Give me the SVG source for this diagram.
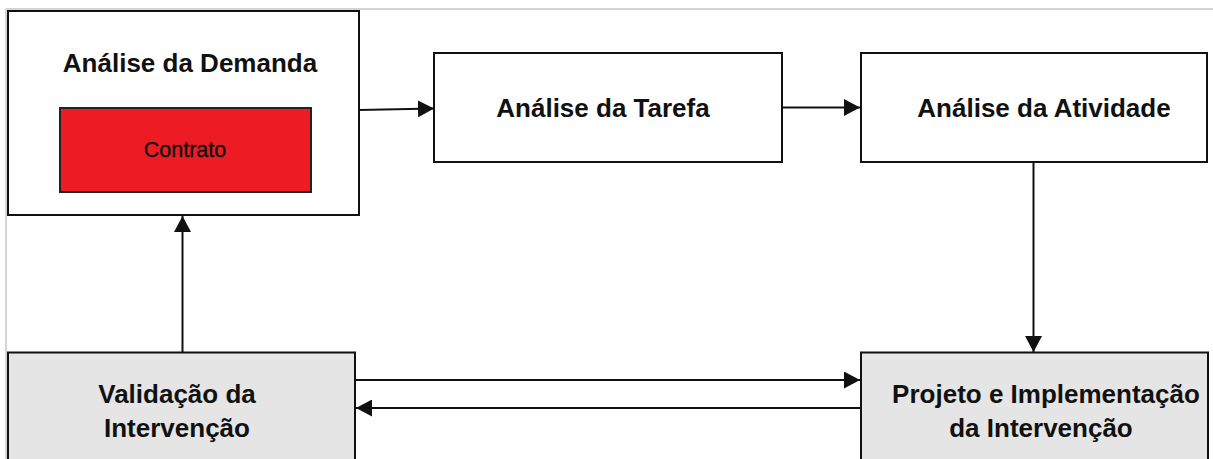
<svg xmlns="http://www.w3.org/2000/svg" width="1213" height="459" viewBox="0 0 1213 459">
  <style>
    .box { fill: #ffffff; stroke: #111111; stroke-width: 2; }
    .grey { fill: #e5e5e5; stroke: #111111; stroke-width: 2; }
    .title { font-family: "Liberation Sans", Arial, sans-serif; font-weight: bold; font-size: 26px; fill: #111111; text-anchor: middle; }
    .small { font-family: "Liberation Sans", Arial, sans-serif; font-size: 21.5px; fill: #111111; stroke: #111111; stroke-width: 0.4; text-anchor: middle; }
    .link { fill: none; stroke: #111111; stroke-width: 2; }
    .frame { fill: none; stroke: #c8c8c8; stroke-width: 1.5; }
  </style>
  <defs>
    <marker id="arrow" markerUnits="userSpaceOnUse" markerWidth="16" markerHeight="17" refX="16" refY="8.5" orient="auto">
      <path d="M0,0 L16,8.5 L0,17 z" fill="#111111"/>
    </marker>
  </defs>

  <rect width="1213" height="459" fill="#ffffff"/>
  <!-- light frame around the canvas -->
  <path class="frame" d="M6,459 V9 H1213"/>

  <g id="analise-demanda">
    <rect class="box" x="8" y="11" width="351" height="204"/>
    <text class="title" x="190" y="71.5">Análise da Demanda</text>
  </g>
  <g id="contrato">
    <rect x="60" y="108" width="251" height="84" fill="#ed1c24" stroke="#222222" stroke-width="2"/>
    <text class="small" x="185" y="156.5">Contrato</text>
  </g>
  <g id="analise-tarefa">
    <rect class="box" x="434" y="53" width="348" height="109"/>
    <text class="title" x="603" y="117">Análise da Tarefa</text>
  </g>
  <g id="analise-atividade">
    <rect class="box" x="861" y="53" width="346" height="109"/>
    <text class="title" x="1044" y="117">Análise da Atividade</text>
  </g>
  <g id="validacao">
    <rect class="grey" x="8" y="352.5" width="347" height="120"/>
    <text class="title" x="177" y="402.5">Validação da</text>
    <text class="title" x="177" y="436.5">Intervenção</text>
  </g>
  <g id="projeto">
    <rect class="grey" x="861" y="352.5" width="347" height="120"/>
    <text class="title" x="1046" y="402.5">Projeto e Implementação</text>
    <text class="title" x="1041" y="436.5">da Intervenção</text>
  </g>

  <g id="connectors">
    <path class="link" d="M359,110 L434,108.5" marker-end="url(#arrow)"/>
    <path class="link" d="M782,107.5 H860" marker-end="url(#arrow)"/>
    <path class="link" d="M1033.5,162 V352" marker-end="url(#arrow)"/>
    <path class="link" d="M355,380 H860" marker-end="url(#arrow)"/>
    <path class="link" d="M860,408 H356" marker-end="url(#arrow)"/>
    <path class="link" d="M182.5,352 V216" marker-end="url(#arrow)"/>
  </g>
</svg>
